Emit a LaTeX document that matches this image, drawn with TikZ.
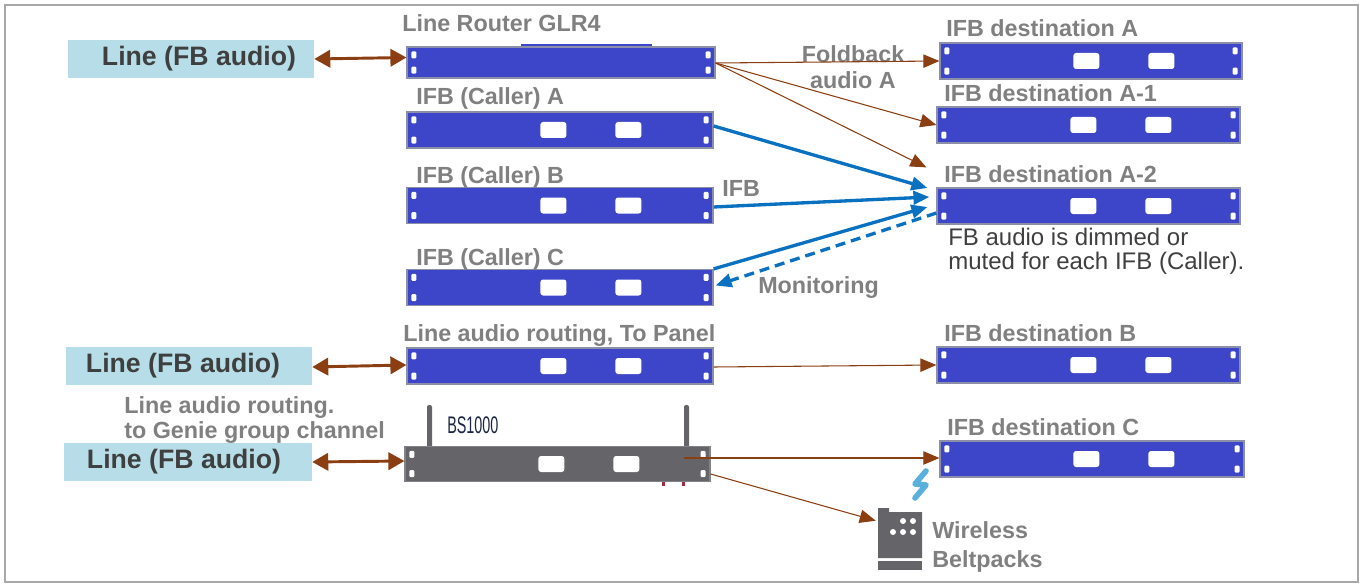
\documentclass[tikz,border=0pt]{standalone}
\usepackage{fontspec}
\setmainfont{Liberation Sans}
\newfontfamily\bsfont[FakeStretch=0.6]{Liberation Sans}
\usetikzlibrary{arrows.meta}
\definecolor{rackblue}{HTML}{3D46C9}
\definecolor{rackedge}{HTML}{8C8FA8}
\definecolor{bsgray}{HTML}{646469}
\definecolor{boxblue}{HTML}{B7DEE8}
\definecolor{darktext}{HTML}{3F3F3F}
\definecolor{labelgray}{HTML}{808080}
\definecolor{brownline}{HTML}{8B3E12}
\definecolor{ifbblue}{HTML}{0A70C0}
\definecolor{zigblue}{HTML}{5AB0DC}
\definecolor{framegray}{HTML}{A8A8A8}
\definecolor{bsnavy}{HTML}{1C2541}
\definecolor{markred}{HTML}{A8283C}
\newcommand\rackdeco[1]{%
  \fill[white,rounded corners=0.8pt] ([shift={(5,5)}]#1.north west) rectangle ++(5,7);
  \fill[white,rounded corners=0.8pt] ([shift={(5,-12)}]#1.south west) rectangle ++(5,7);
  \fill[white,rounded corners=0.8pt] ([shift={(-10,5)}]#1.north east) rectangle ++(5,7);
  \fill[white,rounded corners=0.8pt] ([shift={(-10,-12)}]#1.south east) rectangle ++(5,7);}
\newcommand\rackbuttons[1]{%
  \fill[white,rounded corners=2pt] ([shift={(134,-8)}]#1.west) rectangle ++(26,16);
  \fill[white,rounded corners=2pt] ([shift={(209,-8)}]#1.west) rectangle ++(26,16);}
\tikzset{
  rackunit/.style={draw=rackedge, line width=0.9pt, fill=rackblue, inner sep=0pt, minimum height=27pt, minimum width=229.5pt},
  bsunit/.style={draw=bsgray!80, line width=0.9pt, fill=bsgray, inner sep=0pt, minimum height=26.25pt, minimum width=228.75pt},
  fbbox/.style={fill=boxblue, text=darktext, font=\fontsize{20}{22}\selectfont\bfseries, minimum width=184.5pt, minimum height=28.5pt, inner sep=0pt},
  lbl/.style={text=labelgray, font=\fontsize{17.5}{20}\selectfont\bfseries, anchor=base west, inner sep=0pt},
  note/.style={text=darktext, font=\fontsize{18}{20}\selectfont, anchor=base west, inner sep=0pt},
  fbarrow/.style={draw=brownline, line width=2.2pt, {Triangle[length=12pt,width=13pt]}-{Triangle[length=12pt,width=13pt]}},
  thinarrow/.style={draw=brownline, line width=0.8pt, -{Triangle[length=12pt,width=10pt]}},
  ifbarrow/.style={draw=ifbblue, line width=2.5pt, -{Triangle[length=12pt,width=10pt]}},
}
\begin{document}
\begin{tikzpicture}[x=0.75pt,y=-0.75pt]
\useasboundingbox (0,0) rectangle (1365,585);
\draw[framegray, line width=1.8pt] (5,5) rectangle (1358,582);

% left line boxes
\node[fbbox] (l1) at (191,59) {\hspace*{12pt}Line (FB audio)};
\node[fbbox] (l2) at (189,366) {Line (FB audio)\hspace*{9pt}};
\node[fbbox, minimum width=186pt] (l3) at (188,462) {Line (FB audio)\hspace*{6pt}};

% GLR4
\fill[rackblue] (521,44) rectangle (652,48);
\node[rackunit, minimum width=231pt, minimum height=23.25pt] (glr) at (561,62.5) {};
\rackdeco{glr}
\node[lbl] (tglr) at (402,32) {Line Router GLR4};

% callers
\node[rackunit] (ca) at (560,130) {};
\rackdeco{ca}\rackbuttons{ca}
\node[lbl] (tca) at (416,105) {IFB (Caller) A};
\node[rackunit] (cb) at (560,205.5) {};
\rackdeco{cb}\rackbuttons{cb}
\node[lbl] (tcb) at (416,183) {IFB (Caller) B};
\node[rackunit] (cc) at (560,287.5) {};
\rackdeco{cc}\rackbuttons{cc}
\node[lbl] (tcc) at (416,265) {IFB (Caller) C};

% to panel
\node[rackunit] (tp) at (560,366) {};
\rackdeco{tp}\rackbuttons{tp}
\node[lbl] (ttp) at (403,341) {Line audio routing, To Panel};

% BS1000
\fill[bsgray, rounded corners=1.5pt] (427,405) rectangle (432,450);
\fill[bsgray, rounded corners=1.5pt] (684,405) rectangle (689,450);
\fill[markred] (662,480) rectangle (665,486);
\fill[markred] (682,480) rectangle (685,486);
\node[bsunit] (bs) at (557.5,464) {};
\rackdeco{bs}\rackbuttons{bs}
\node[text=bsnavy, font=\fontsize{18}{20}\selectfont\bsfont, anchor=base west, inner sep=0pt] (tbs) at (447,433) {BS1000};
\node[lbl] (tgenie1) at (124,413) {Line audio routing.};
\node[lbl] (tgenie2) at (124,438) {to Genie group channel};

% destinations
\node[rackunit, minimum width=226.5pt] (da) at (1091,61) {};
\rackdeco{da}\rackbuttons{da}
\node[lbl] (tda) at (946,37) {IFB destination A};
\node[rackunit, minimum width=227.25pt] (da1) at (1088.5,125) {};
\rackdeco{da1}\rackbuttons{da1}
\node[lbl] (tda1) at (944,102) {IFB destination A-1};
\node[rackunit, minimum width=227.25pt] (da2) at (1088.5,206) {};
\rackdeco{da2}\rackbuttons{da2}
\node[lbl] (tda2) at (944,182) {IFB destination A-2};
\node[note] (n1) at (948,245) {FB audio is dimmed or};
\node[note] (n2) at (948,269) {muted for each IFB (Caller).};
\node[rackunit, minimum width=227.25pt] (db) at (1088.5,365) {};
\rackdeco{db}\rackbuttons{db}
\node[lbl] (tdb) at (944,341) {IFB destination B};
\node[rackunit, minimum width=228pt] (dc) at (1092,459) {};
\rackdeco{dc}\rackbuttons{dc}
\node[lbl] (tdc) at (947,435) {IFB destination C};

% beltpack
\node[inner sep=0pt, minimum width=33pt, minimum height=46.5pt] (bp) at (900,539) {};
\fill[bsgray] (878,558) -- (878,508) -- (889,508) -- (889,512) -- (922,512) -- (922,558) -- cycle;
\fill[bsgray] (878,561) rectangle (922,570);
\foreach \p in {(903,521),(913,521),(893,532),(903,532),(913,532)} \fill[white] \p circle[radius=3];
\draw[zigblue, line width=4.2pt, line cap=round, line join=round] (926,471) -- (915,484) -- (926,485) -- (915,498);
\node[lbl] (tw1) at (932,538) {Wireless};
\node[lbl] (tw2) at (932,567) {Beltpacks};

% labels on connectors
\node[lbl, anchor=base] (tfold1) at (853,63) {Foldback};
\node[lbl, anchor=base] (tfold2) at (853,89) {audio A};
\node[lbl] (tifb) at (722,196) {IFB};
\node[lbl] (tmon) at (758,293) {Monitoring};

% brown line connections
\draw[fbarrow] (l1.east) -- ([shift={(0,-5)}]glr.west);
\draw[fbarrow] ([shift={(0,1)}]l2.east) -- ([shift={(0,-1)}]tp.west);
\draw[fbarrow] (l3.east) -- ([shift={(0,-3)}]bs.west);

\coordinate (glrout) at ([shift={(0,0.5)}]glr.east);
\coordinate (fbend) at ([shift={(-10,-20)}]da2.north west);
\draw[thinarrow] (glrout) -- (da.west);
\draw[thinarrow] (glrout) -- (da1.west);
\draw[thinarrow] (glrout) -- (fbend);
\draw[thinarrow] ([shift={(0,1)}]tp.east) -- (db.west);
\coordinate (bsout1) at ([shift={(-27,-6)}]bs.east);
\draw[thinarrow] (bsout1) -- ([shift={(0,-1)}]dc.west);
\draw[thinarrow] ([shift={(0,10)}]bs.east) -- ([shift={(-2,13)}]bp.north west);

% IFB blue
\draw[ifbarrow] ([shift={(0,-4)}]ca.east) -- ([shift={(-9,-18)}]da2.west);
\draw[ifbarrow] ([shift={(0,1.5)}]cb.east) -- ([shift={(-7,-9)}]da2.west);
\draw[ifbarrow] (cc.north east) -- ([shift={(-9,1)}]da2.west);
\draw[ifbarrow, dash pattern=on 7.5pt off 4.5pt] ([shift={(0,7)}]da2.west) -- ([shift={(2,-2)}]cc.east);
\end{tikzpicture}
\end{document}
